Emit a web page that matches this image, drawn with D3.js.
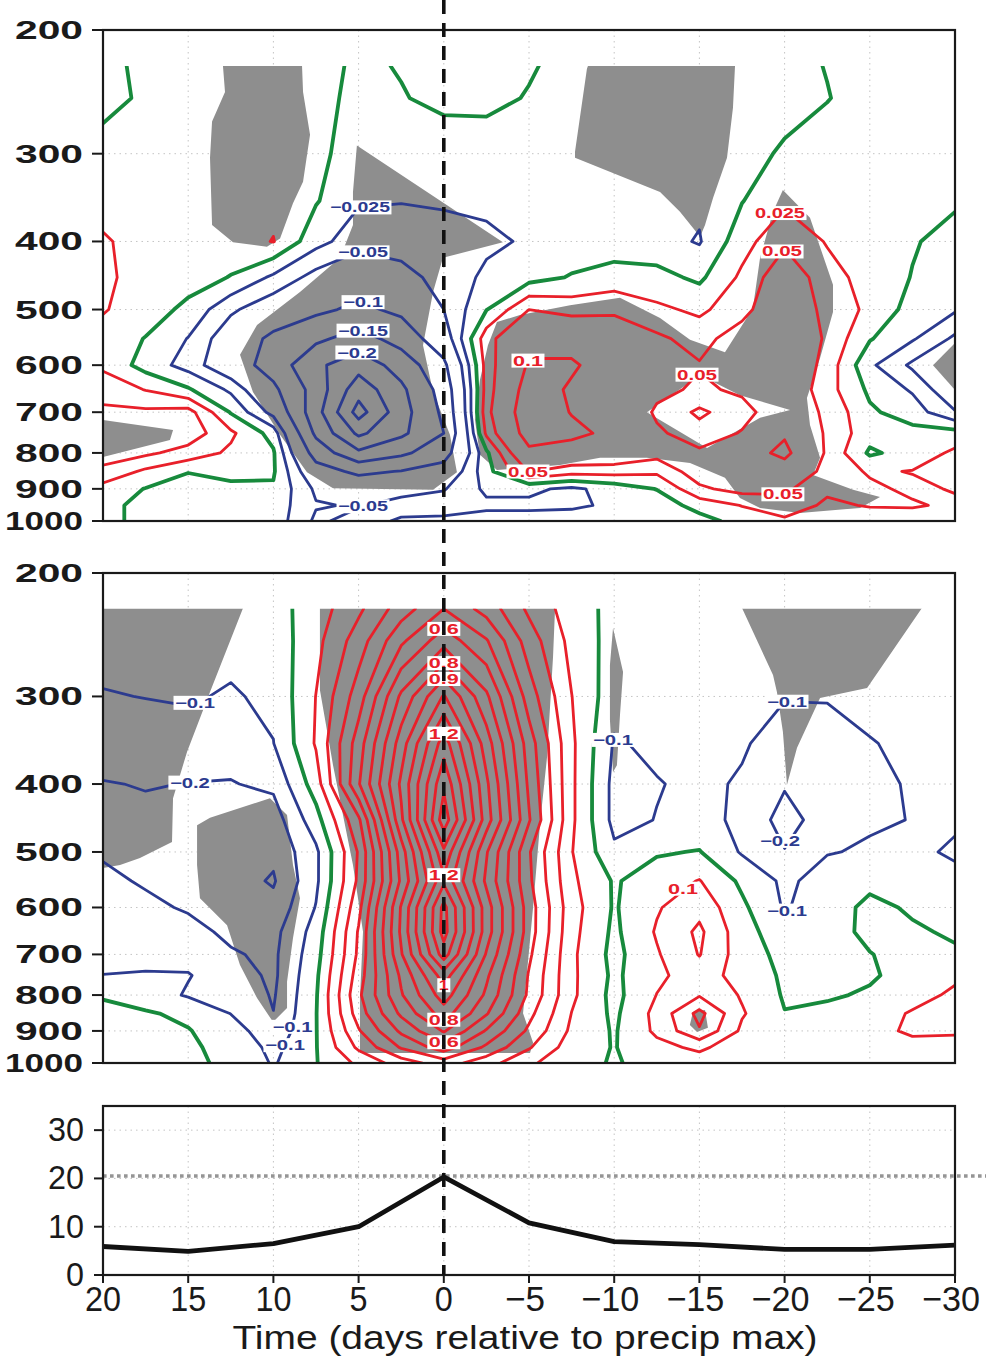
<!DOCTYPE html>
<html>
<head>
<meta charset="utf-8">
<script src="https://cdn.jsdelivr.net/npm/d3@7"></script>
<style>
  body { margin: 0; background: #fff; }
  svg { display: block; }
</style>
</head>
<body>
<svg id="chart" width="986" height="1361"></svg>
<script>
// ---------------------------------------------------------------
// Grid coordinates: lag in days (columns) and pressure levels (rows)
// ---------------------------------------------------------------
const days = [20, 17.5, 15, 12.5, 10, 7.5, 5, 2.5, 0, -2.5, -5, -7.5, -10,
              -12.5, -15, -17.5, -20, -22.5, -25, -27.5, -30];
const levels = [225, 250, 300, 350, 400, 450, 500, 550, 600, 650, 700, 750,
                800, 850, 900, 950, 1000];

// Upper panel field, one row per pressure level (225 ... 1000 hPa)
const upperByLevel = [
  [-0.01, 0.008, 0.012, 0.012, 0.012, 0.012, -0.006, 0.002, 0.015, 0.015, 0.003, -0.01, -0.012, -0.012, -0.012, -0.01, -0.008, 0.001, 0.01, 0.01, 0.01],
  [-0.01, 0.005, 0.012, 0.014, 0.014, 0.012, -0.01, -0.002, 0.008, 0.008, -0.002, -0.012, -0.015, -0.015, -0.015, -0.012, -0.008, -0.001, 0.01, 0.012, 0.012],
  [0.012, 0.012, 0.015, 0.016, 0.016, 0.008, -0.015, -0.02, -0.018, -0.016, -0.014, -0.013, -0.015, -0.016, -0.018, -0.008, 0.003, 0.012, 0.015, 0.012, 0.006],
  [0.015, 0.014, 0.014, 0.016, 0.018, 0.002, -0.022, -0.024, -0.022, -0.02, -0.016, -0.013, -0.013, -0.016, -0.02, -0.001, 0.02, 0.016, 0.013, 0.008, 0.003],
  [0.028, 0.015, 0.012, 0.013, 0.026, -0.016, -0.04, -0.038, -0.035, -0.03, -0.022, -0.016, -0.013, -0.016, -0.027, 0.015, 0.045, 0.023, 0.01, 0.002, -0.008],
  [0.03, 0.015, 0.01, -0.001, -0.03, -0.06, -0.075, -0.06, -0.04, -0.02, -0.01, 0.002, 0.01, 0.008, -0.005, 0.03, 0.07, 0.035, 0.015, -0.001, -0.012],
  [0.027, 0.012, -0.006, -0.045, -0.07, -0.09, -0.11, -0.09, -0.05, -0.001, 0.05, 0.04, 0.045, 0.03, 0.02, 0.04, 0.08, 0.04, 0.02, -0.01, -0.022],
  [0.015, -0.001, -0.026, -0.07, -0.11, -0.14, -0.17, -0.13, -0.07, 0.04, 0.085, 0.085, 0.07, 0.055, 0.04, 0.065, 0.085, 0.045, 0.002, -0.022, -0.055],
  [0.02, -0.01, -0.035, -0.075, -0.12, -0.19, -0.23, -0.18, -0.11, 0.035, 0.105, 0.105, 0.08, 0.065, 0.052, 0.06, 0.08, 0.04, -0.02, -0.055, -0.08],
  [0.04, 0.024, 0.003, -0.03, -0.09, -0.17, -0.28, -0.21, -0.13, 0.035, 0.12, 0.095, 0.08, 0.058, 0.045, 0.055, 0.075, 0.035, -0.005, -0.028, -0.075],
  [0.055, 0.055, 0.06, -0.002, -0.06, -0.18, -0.32, -0.22, -0.14, 0.04, 0.13, 0.098, 0.085, 0.045, 0.02, 0.04, 0.07, 0.045, 0.004, -0.012, -0.048],
  [0.065, 0.065, 0.065, 0.03, -0.01, -0.16, -0.26, -0.21, -0.15, 0.03, 0.12, 0.11, 0.09, 0.055, 0.035, 0.052, 0.095, 0.045, 0.01, 0.008, 0.01],
  [0.06, 0.055, 0.04, 0.02, 0.003, -0.12, -0.19, -0.16, -0.12, -0.005, 0.09, 0.08, 0.075, 0.06, 0.055, 0.08, 0.11, 0.045, -0.004, 0.01, 0.03],
  [0.045, 0.02, 0.001, 0.01, 0.003, -0.08, -0.11, -0.098, -0.08, -0.01, 0.052, 0.035, 0.035, 0.03, 0.065, 0.085, 0.08, 0.04, 0.022, 0.026, 0.03],
  [0.015, -0.001, -0.01, -0.008, -0.003, -0.055, -0.065, -0.06, -0.052, -0.02, -0.02, -0.03, -0.015, 0.001, 0.045, 0.06, 0.055, 0.03, 0.03, 0.02, 0.027],
  [0.005, -0.005, -0.01, -0.01, -0.01, -0.048, -0.052, -0.04, -0.035, -0.03, -0.03, -0.03, -0.02, -0.015, 0.01, 0.026, 0.04, 0.02, 0.027, 0.028, 0.02],
  [0.005, -0.005, -0.005, -0.01, -0.01, -0.055, -0.04, -0.02, -0.02, -0.015, -0.015, -0.01, -0.005, -0.01, -0.01, 0.01, 0.02, 0.01, 0.01, 0.01, 0.01]
];

// Middle panel field, one column per lag day (20 ... -30), top to bottom in pressure
const middleByDay = [
  [-0.06, -0.07, -0.105, -0.15, -0.205, -0.22, -0.21, -0.18, -0.15, -0.13, -0.12, -0.099, -0.005, 0.015, 0.02, 0.02, 0.02],
  [-0.05, -0.06, -0.098, -0.14, -0.195, -0.22, -0.22, -0.21, -0.18, -0.14, -0.12, -0.095, -0.05, 0.01, 0.015, 0.015, 0.015],
  [-0.05, -0.06, -0.09, -0.14, -0.202, -0.23, -0.24, -0.22, -0.21, -0.17, -0.13, -0.095, -0.11, -0.02, 0.005, 0.01, 0.01],
  [-0.05, -0.07, -0.11, -0.16, -0.205, -0.24, -0.26, -0.26, -0.25, -0.22, -0.19, -0.15, -0.12, -0.102, -0.05, -0.02, -0.01],
  [-0.04, -0.06, -0.08, -0.102, -0.18, -0.25, -0.28, -0.31, -0.27, -0.23, -0.22, -0.22, -0.21, -0.198, -0.17, -0.13, -0.11],
  [0.05, 0.07, 0.102, 0.11, 0.05, -0.04, -0.12, -0.12, -0.095, -0.06, -0.04, -0.02, -0.01, -0.005, -0.005, -0.005, -0.005],
  [0.18, 0.25, 0.35, 0.45, 0.49, 0.28, 0.21, 0.22, 0.27, 0.31, 0.32, 0.35, 0.38, 0.35, 0.29, 0.22, 0.12],
  [0.35, 0.48, 0.72, 0.85, 0.92, 0.88, 0.75, 0.72, 0.81, 0.82, 0.79, 0.72, 0.69, 0.62, 0.52, 0.41, 0.25],
  [0.5, 0.66, 1.01, 1.25, 1.38, 1.46, 1.28, 1.18, 1.33, 1.34, 1.25, 1.05, 0.95, 0.85, 0.71, 0.55, 0.35],
  [0.36, 0.51, 0.72, 0.85, 0.92, 0.95, 0.81, 0.78, 0.85, 0.85, 0.79, 0.72, 0.68, 0.61, 0.49, 0.38, 0.24],
  [0.18, 0.25, 0.35, 0.45, 0.48, 0.51, 0.41, 0.42, 0.45, 0.45, 0.42, 0.39, 0.38, 0.33, 0.28, 0.21, 0.12],
  [0.05, 0.07, 0.102, 0.12, 0.12, 0.12, 0.105, 0.12, 0.14, 0.13, 0.12, 0.12, 0.12, 0.098, 0.08, 0.05, 0.02],
  [-0.03, -0.04, -0.06, -0.11, -0.13, -0.13, -0.08, -0.01, -0.01, -0.02, -0.03, -0.02, -0.03, -0.02, -0.01, -0.005, -0.005],
  [-0.04, -0.05, -0.06, -0.08, -0.105, -0.097, -0.01, 0.05, 0.09, 0.11, 0.09, 0.08, 0.102, 0.13, 0.12, 0.07, 0.02],
  [-0.04, -0.05, -0.06, -0.07, -0.08, -0.07, 0.005, 0.105, 0.17, 0.22, 0.205, 0.15, 0.19, 0.33, 0.29, 0.12, 0.05],
  [-0.04, -0.05, -0.07, -0.09, -0.11, -0.12, -0.11, -0.02, 0.02, 0.04, 0.05, 0.06, 0.09, 0.11, 0.08, 0.04, 0.02],
  [-0.04, -0.05, -0.095, -0.14, -0.19, -0.24, -0.195, -0.12, -0.11, -0.06, -0.03, -0.015, -0.01, 0.003, 0.02, 0.03, 0.03],
  [-0.04, -0.05, -0.095, -0.13, -0.15, -0.15, -0.105, -0.06, -0.04, -0.035, -0.03, -0.02, -0.01, 0.02, 0.04, 0.05, 0.04],
  [-0.04, -0.05, -0.07, -0.105, -0.12, -0.11, -0.09, -0.02, 0.02, 0.02, -0.003, -0.01, 0.01, 0.05, 0.08, 0.07, 0.04],
  [-0.04, -0.05, -0.07, -0.08, -0.092, -0.098, -0.07, -0.05, -0.01, 0.01, 0.03, 0.03, 0.06, 0.11, 0.11, 0.08, 0.05],
  [-0.04, -0.05, -0.06, -0.07, -0.08, -0.08, -0.12, -0.06, -0.03, -0.01, 0.01, 0.08, 0.12, 0.14, 0.105, 0.085, 0.06]
];

// Contour intervals
const upperLevels = [-0.3, -0.25, -0.2, -0.15, -0.1, -0.05, -0.025, 0, 0.025, 0.05, 0.1];
const middleLevels = [-0.3, -0.2, -0.1, 0, 0.1, 0.2, 0.3, 0.4, 0.5, 0.6, 0.7, 0.8, 0.9,
                      1.0, 1.1, 1.2, 1.3, 1.4];

// Shaded areas, as rings of [lag day, hPa]
const upperShade = [
  [[[12.96, 225], [8.32, 225], [8.26, 245], [7.85, 282], [8.26, 329], [8.85, 353], [9.61, 396],
    [10.38, 407], [12.37, 401], [13.6, 379], [13.72, 304], [13.6, 270], [12.84, 245]]],
  [[[5.1, 292], [-3.47, 401], [0.05, 422], [0.63, 472], [1.22, 562], [0.63, 655], [-0.36, 754],
    [-0.77, 852], [0.63, 903], [6.5, 898], [8.03, 852], [9.61, 754], [11.2, 655], [11.96, 580],
    [10.96, 526], [8.44, 472], [6.09, 422], [5.33, 379], [5.33, 340]]],
  [[[20, 718], [15.89, 742], [16.07, 767], [20, 811]]],
  [[[-8.46, 225], [-17.09, 225], [-16.97, 258], [-16.62, 304], [-15.8, 347], [-15.33, 379],
    [-15.04, 394], [-13.86, 363], [-12.69, 340], [-7.7, 304], [-7.7, 298], [-8.4, 227]]],
  [[[-3.12, 521], [-4.47, 509], [-7.41, 493], [-10.34, 481], [-12.69, 514], [-14.45, 552],
    [-16.5, 575], [-18.14, 498], [-18.56, 422], [-19.32, 363], [-19.9, 338], [-21.49, 370],
    [-22.84, 461], [-22.84, 504], [-22.08, 586], [-21.31, 668], [-21.49, 730], [-22.08, 813],
    [-21.67, 860], [-24.02, 903], [-25.6, 924], [-24.43, 958], [-20.9, 974], [-18.56, 958],
    [-17.38, 927], [-16.5, 868], [-14.45, 827], [-11.92, 813], [-9.17, 813], [-6.82, 832],
    [-4.47, 841], [-3.12, 846], [-2.12, 805], [-1.83, 718], [-2.12, 630], [-2.59, 562]],
   [[-11.92, 700], [-15.04, 620], [-17.38, 662], [-20.32, 695], [-18.56, 713], [-15.45, 787]]],
  [[[-28.71, 600], [-30, 558], [-30, 651]]]
];

const middleShade = [
  [[[20, 224.4], [11.78, 224.4], [13.72, 295.7], [15.07, 360], [15.89, 419], [15.95, 484],
    [17.83, 510], [19.0, 522], [20, 527]]],
  [[[14.48, 458], [13.72, 447], [10.2, 419], [9.2, 443], [8.85, 522], [8.44, 582], [8.85, 663],
    [9.2, 766], [9.2, 835], [10.02, 874], [10.96, 808], [11.96, 725], [12.72, 636], [14.31, 582],
    [14.48, 522]]],
  [[[7.27, 224.4], [-6.53, 224.4], [-6.41, 263.5], [-6.06, 366], [-5.65, 455], [-5.24, 599],
    [-4.88, 744], [-4.65, 849], [-5.24, 936], [-5.06, 968], [4.92, 968], [4.92, 808], [4.74, 650],
    [5.33, 522], [6.5, 376], [7.27, 293.8]]],
  [[[-9.93, 239.6], [-10.52, 276.9], [-10.34, 318.8], [-10.16, 376], [-9.93, 384.5],
    [-9.75, 324], [-9.75, 270.6]]],
  [[[-17.5, 224.4], [-28.06, 224.4], [-24.84, 291.8], [-22.08, 301.5], [-20.73, 355],
    [-20.14, 401], [-19.9, 337], [-19.55, 295.7], [-19.32, 279.6]]],
  [[[-14.62, 846], [-15.33, 840], [-15.5, 891], [-14.86, 903], [-14.44, 883]]]
];

// Contour labels: position (lag day, hPa) and the contour value they name
const upperLabels = [
  { day: 4.92, p: 364, level: -0.025, text: "−0.025" },
  { day: 4.74, p: 422, level: -0.05, text: "−0.05" },
  { day: 4.74, p: 481, level: -0.1, text: "−0.1" },
  { day: 4.74, p: 547, level: -0.15, text: "−0.15" },
  { day: 5.1, p: 606, level: -0.2, text: "−0.2" },
  { day: 4.74, p: 924, level: -0.05, text: "−0.05" },
  { day: -4.94, p: 594, level: 0.1, text: "0.1" },
  { day: -4.94, p: 852, level: 0.05, text: "0.05" },
  { day: -19.73, p: 361, level: 0.025, text: "0.025" },
  { day: -19.85, p: 428, level: 0.05, text: "0.05" },
  { day: -14.86, p: 610, level: 0.05, text: "0.05" },
  { day: -19.9, p: 918, level: 0.05, text: "0.05" }
];
const middleLabels = [
  { day: 14.6, p: 287, level: -0.1, text: "−0.1" },
  { day: 14.9, p: 393, level: -0.2, text: "−0.2" },
  { day: 9.85, p: 888, level: -0.1, text: "−0.1" },
  { day: 9.85, p: 943, level: -0.1, text: "−0.1" },
  { day: 0, p: 245, level: 0.6, text: "0.6" },
  { day: 0, p: 268, level: 0.8, text: "0.8" },
  { day: 0, p: 284, level: 0.9, text: "0.9" },
  { day: 0, p: 338, level: 1.2, text: "1.2" },
  { day: 0, p: 527, level: 1.2, text: "1.2" },
  { day: 0, p: 774, level: 1.0, text: "1" },
  { day: 0, p: 877, level: 0.8, text: "0.8" },
  { day: 0, p: 927, level: 0.6, text: "0.6" },
  { day: -9.93, p: 326, level: -0.1, text: "−0.1" },
  { day: -14.04, p: 548, level: 0.1, text: "0.1" },
  { day: -20.14, p: 296, level: -0.1, text: "−0.1" },
  { day: -19.73, p: 505, level: -0.2, text: "−0.2" },
  { day: -20.14, p: 636, level: -0.1, text: "−0.1" }
];

// Precipitation composite (bottom panel)
const precipDays = [20, 15, 10, 5, 0, -5, -10, -15, -20, -25, -30];
const precipVals = [5.9, 4.9, 6.5, 10.0, 20.3, 10.8, 6.9, 6.3, 5.3, 5.3, 6.2];
const precipRef = 20.5;

// Axis ticks
const pTicks = [200, 300, 400, 500, 600, 700, 800, 900, 1000];
const dayTicks = [20, 15, 10, 5, 0, -5, -10, -15, -20, -25, -30];
const rainTicks = [0, 10, 20, 30];

// ---------------------------------------------------------------
// Drawing
// ---------------------------------------------------------------
const COLORS = { neg: "#2c3b8f", zero: "#178a3c", pos: "#e8202a", shade: "#8e8e8e" };
const svg = d3.select("#chart");
const X0 = 103, X1 = 955;
const x = d3.scaleLinear().domain([20, -30]).range([X0, X1]);
const yUpper = d3.scaleLog().domain([200, 1000]).range([30, 521]);
const yMiddle = d3.scaleLog().domain([200, 1000]).range([573, 1063]);
const yRain = d3.scaleLinear().domain([0, 35]).range([1275, 1106]);

const middleByLevel = levels.map((_, j) => middleByDay.map(col => col[j]));

const defs = svg.append("defs");
const fmtDay = d => d > 0 ? String(d) : d < 0 ? "−" + Math.abs(d) : "0";

function interpArr(arr, f) {
  const n = arr.length;
  let k = Math.floor(f);
  k = Math.max(0, Math.min(n - 2, k));
  return arr[k] + (arr[k + 1] - arr[k]) * (f - k);
}
function invArr(arr, v) {
  const n = arr.length;
  let k = 0;
  while (k < n - 2 && v > arr[k + 1]) k++;
  return k + (v - arr[k]) / (arr[k + 1] - arr[k]);
}
function sample(grid, fi, fj) {
  const ny = grid.length, nx = grid[0].length;
  fi = Math.max(0, Math.min(nx - 1, fi));
  fj = Math.max(0, Math.min(ny - 1, fj));
  const i0 = Math.min(nx - 2, Math.floor(fi)), j0 = Math.min(ny - 2, Math.floor(fj));
  const ti = fi - i0, tj = fj - j0;
  const a = grid[j0][i0], b = grid[j0][i0 + 1], c = grid[j0 + 1][i0], d = grid[j0 + 1][i0 + 1];
  return (a * (1 - ti) + b * ti) * (1 - tj) + (c * (1 - ti) + d * ti) * tj;
}

function drawPressurePanel(id, grid, yScale, cLevels, shade, labels) {
  const xs = days.map(d => x(d));
  const ys = levels.map(p => yScale(p));
  const top = yScale(200), bottom = yScale(1000);
  const g = svg.append("g").attr("class", id);

  // dotted grid
  const grd = g.append("g").attr("stroke", "#c4c4c4").attr("stroke-width", 1)
    .attr("stroke-dasharray", "1.5,4");
  pTicks.slice(1, -1).forEach(p => grd.append("line")
    .attr("x1", X0).attr("x2", X1).attr("y1", yScale(p)).attr("y2", yScale(p)));
  dayTicks.slice(1, -1).forEach(d => grd.append("line")
    .attr("x1", x(d)).attr("x2", x(d)).attr("y1", top).attr("y2", bottom));

  // clip to the data area
  const clipId = id + "-clip";
  defs.append("clipPath").attr("id", clipId).append("rect")
    .attr("x", X0).attr("y", ys[0]).attr("width", X1 - X0).attr("height", ys[ys.length - 1] - ys[0]);

  // shading
  const ring = d3.line().x(d => x(d[0])).y(d => yScale(d[1]));
  const gs = g.append("g").attr("clip-path", `url(#${clipId})`);
  shade.forEach(region => {
    gs.append("path")
      .attr("d", region.map(r => ring(r) + "Z").join(""))
      .attr("fill", COLORS.shade).attr("fill-rule", "evenodd").attr("stroke", "none");
  });

  // contours on an edge-padded copy of the grid so lines cross the frame cleanly
  const ny = grid.length, nx = grid[0].length, W = nx + 2, H = ny + 2;
  const vals = new Float64Array(W * H);
  for (let j = 0; j < H; j++) {
    for (let i = 0; i < W; i++) {
      const jj = Math.min(ny - 1, Math.max(0, j - 1));
      const ii = Math.min(nx - 1, Math.max(0, i - 1));
      vals[j * W + i] = grid[jj][ii];
    }
  }
  const proj = d3.geoTransform({
    point(u, v) { this.stream.point(interpArr(xs, u - 1.5), interpArr(ys, v - 1.5)); }
  });
  const path = d3.geoPath(proj);
  const gen = d3.contours().size([W, H]);
  const gc = g.append("g").attr("clip-path", `url(#${clipId})`)
    .attr("fill", "none").attr("stroke-linejoin", "round").attr("stroke-linecap", "round");
  cLevels.forEach(lv => {
    const c = gen.contour(vals, lv);
    gc.append("path").attr("d", path(c))
      .attr("stroke", lv < 0 ? COLORS.neg : lv > 0 ? COLORS.pos : COLORS.zero)
      .attr("stroke-width", lv === 0 ? 3.8 : 2.8);
  });

  // labels, snapped onto their contour
  const fiOf = px => (px - xs[0]) / (xs[1] - xs[0]);
  const fjOf = py => invArr(ys, py);
  const gl = g.append("g");
  labels.forEach(lab => {
    const px = x(lab.day), py = yScale(lab.p);
    const f = (X, Y) => sample(grid, fiOf(X), fjOf(Y)) - lab.level;
    let best = null;
    for (let d = -20; d < 20; d += 0.5) {
      const a = f(px, py + d), b = f(px, py + d + 0.5);
      if (a * b <= 0 && a !== b) {
        const yy = py + d + 0.5 * a / (a - b);
        if (!best || Math.abs(yy - py) < Math.abs(best[1] - py)) best = [px, yy];
      }
    }
    if (!best) {
      for (let d = -20; d < 20; d += 0.5) {
        const a = f(px + d, py), b = f(px + d + 0.5, py);
        if (a * b <= 0 && a !== b) {
          const xx = px + d + 0.5 * a / (a - b);
          if (!best || Math.abs(xx - px) < Math.abs(best[0] - px)) best = [xx, py];
        }
      }
    }
    const [lx, ly] = best || [px, py];
    const w = lab.text.length * 10;
    gl.append("rect").attr("x", lx - w / 2 - 1.5).attr("y", ly - 7).attr("width", w + 3).attr("height", 14)
      .attr("fill", "#fff");
    gl.append("text").attr("x", lx).attr("y", ly + 5)
      .attr("text-anchor", "middle")
      .attr("font-family", "'Liberation Sans', Arial, sans-serif")
      .attr("font-weight", "bold").attr("font-size", 14)
      .attr("textLength", w).attr("lengthAdjust", "spacingAndGlyphs")
      .attr("fill", lab.level < 0 ? COLORS.neg : lab.level > 0 ? COLORS.pos : COLORS.zero)
      .text(lab.text);
  });

  // frame, ticks and labels
  g.append("rect").attr("x", X0).attr("y", top).attr("width", X1 - X0).attr("height", bottom - top)
    .attr("fill", "none").attr("stroke", "#1a1a1a").attr("stroke-width", 2.2);
  pTicks.forEach(p => {
    const yy = yScale(p);
    g.append("line").attr("x1", 92).attr("x2", X0).attr("y1", yy).attr("y2", yy)
      .attr("stroke", "#1a1a1a").attr("stroke-width", 2);
    const s = String(p);
    g.append("text").attr("x", 83).attr("y", yy + 9)
      .attr("text-anchor", "end")
      .attr("font-family", "'Liberation Sans', Arial, sans-serif")
      .attr("font-weight", "bold").attr("font-size", 25).attr("fill", "#1a1a1a")
      .attr("textLength", s.length === 4 ? 78 : 68).attr("lengthAdjust", "spacingAndGlyphs")
      .text(s);
  });
}

drawPressurePanel("upper", upperByLevel, yUpper, upperLevels, upperShade, upperLabels);
drawPressurePanel("middle", middleByLevel, yMiddle, middleLevels, middleShade, middleLabels);

// ---- bottom panel: precipitation ----
const gb = svg.append("g");
const gbg = gb.append("g").attr("stroke", "#c4c4c4").attr("stroke-width", 1).attr("stroke-dasharray", "1.5,4");
rainTicks.slice(1).forEach(v => gbg.append("line")
  .attr("x1", X0).attr("x2", X1).attr("y1", yRain(v)).attr("y2", yRain(v)));
dayTicks.slice(1, -1).forEach(d => gbg.append("line")
  .attr("x1", x(d)).attr("x2", x(d)).attr("y1", yRain(35)).attr("y2", yRain(0)));

gb.append("line").attr("x1", X0).attr("x2", 986)
  .attr("y1", yRain(precipRef)).attr("y2", yRain(precipRef))
  .attr("stroke", "#959595").attr("stroke-width", 3.6).attr("stroke-dasharray", "3.6,3.4");

gb.append("path")
  .datum(precipDays.map((d, i) => [d, precipVals[i]]))
  .attr("d", d3.line().x(d => x(d[0])).y(d => yRain(d[1])))
  .attr("fill", "none").attr("stroke", "#111").attr("stroke-width", 4.8)
  .attr("stroke-linejoin", "round");

gb.append("rect").attr("x", X0).attr("y", yRain(35)).attr("width", X1 - X0)
  .attr("height", yRain(0) - yRain(35))
  .attr("fill", "none").attr("stroke", "#1a1a1a").attr("stroke-width", 2.2);

rainTicks.forEach(v => {
  gb.append("line").attr("x1", 94).attr("x2", X0).attr("y1", yRain(v)).attr("y2", yRain(v))
    .attr("stroke", "#1a1a1a").attr("stroke-width", 2);
  gb.append("text").attr("x", 84).attr("y", yRain(v) + 11)
    .attr("text-anchor", "end")
    .attr("font-family", "'Liberation Sans Narrow', 'Liberation Sans', Arial, sans-serif")
    .attr("font-size", 33).attr("fill", "#1a1a1a")
    .attr("textLength", String(v).length * 18).attr("lengthAdjust", "spacingAndGlyphs")
    .text(String(v));
});
dayTicks.forEach(d => {
  gb.append("line").attr("x1", x(d)).attr("x2", x(d)).attr("y1", yRain(0)).attr("y2", yRain(0) + 8)
    .attr("stroke", "#1a1a1a").attr("stroke-width", 2);
  const s = fmtDay(d);
  const len = (d < 0 ? 22 : 0) + String(Math.abs(d)).length * 18;
  gb.append("text").attr("x", x(d) - (d < 0 ? 4 : 0)).attr("y", 1311)
    .attr("text-anchor", "middle")
    .attr("font-family", "'Liberation Sans Narrow', 'Liberation Sans', Arial, sans-serif")
    .attr("font-size", 35).attr("fill", "#1a1a1a")
    .attr("textLength", len).attr("lengthAdjust", "spacingAndGlyphs")
    .text(s);
});
gb.append("text").attr("x", 525).attr("y", 1349)
  .attr("text-anchor", "middle")
  .attr("font-family", "'Liberation Sans Narrow', 'Liberation Sans', Arial, sans-serif")
  .attr("font-size", 34).attr("fill", "#1a1a1a")
  .attr("textLength", 585).attr("lengthAdjust", "spacingAndGlyphs")
  .text("Time (days relative to precip max)");

// lag-zero reference line through all panels
svg.append("line").attr("x1", x(0)).attr("x2", x(0)).attr("y1", 0).attr("y2", yRain(0))
  .attr("stroke", "#111").attr("stroke-width", 3.6).attr("stroke-dasharray", "14,9");
</script>
</body>
</html>
